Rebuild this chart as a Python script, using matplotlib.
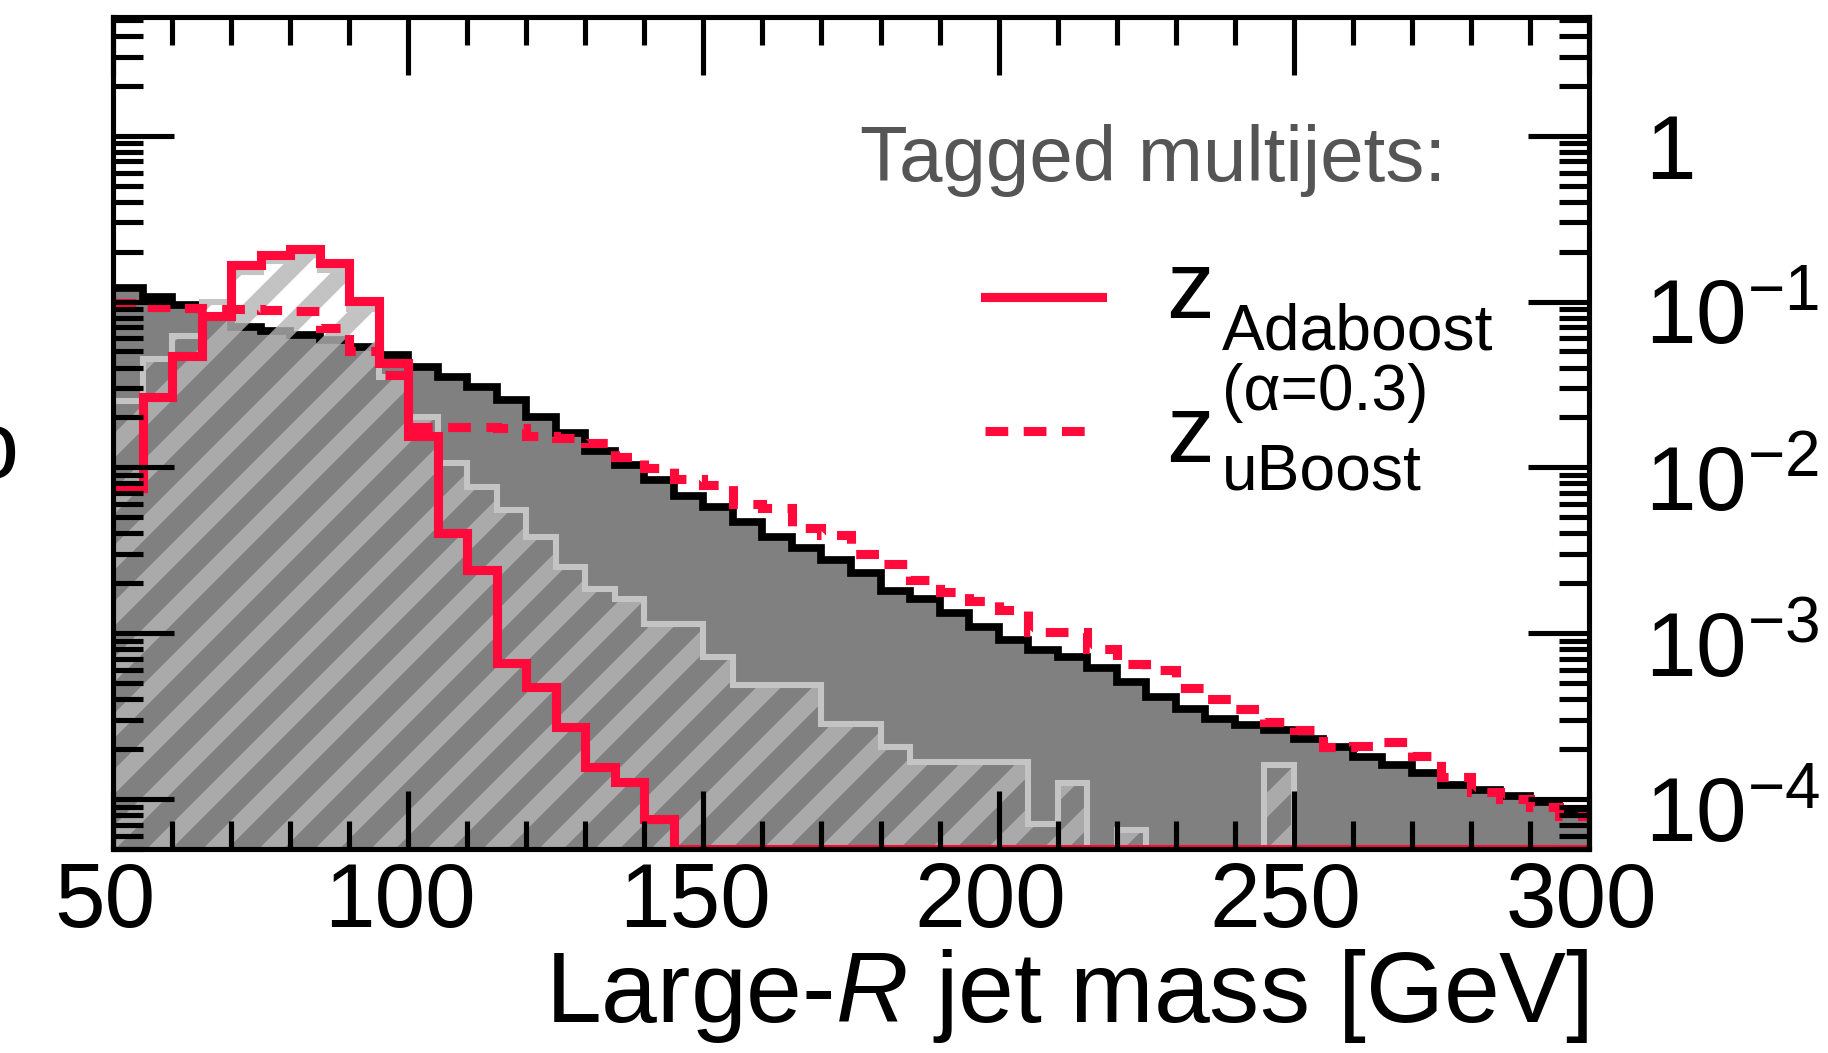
import numpy as np
import matplotlib
matplotlib.use("Agg")
import matplotlib.pyplot as plt
import matplotlib.transforms as mtransforms
from matplotlib.lines import Line2D
from matplotlib.ticker import MultipleLocator, LogLocator, FixedLocator, NullFormatter

plt.rcParams["font.family"] = ["Liberation Sans", "DejaVu Sans"]
plt.rcParams["mathtext.fontset"] = "custom"
plt.rcParams["mathtext.rm"] = "Liberation Sans"
plt.rcParams["mathtext.it"] = "Liberation Sans:italic"
plt.rcParams["hatch.linewidth"] = 7.5

# ---- data (5 GeV bins, 50 -> 300 GeV, unit-normalised fractions) ----
bin_edges = np.arange(50, 305, 5)

inclusive = [0.120, 0.107, 0.0955, 0.082, 0.0705, 0.066, 0.063, 0.0587, 0.0535, 0.0477,
             0.0405, 0.0353, 0.0307, 0.0255, 0.0200, 0.0161, 0.0126, 0.0104, 0.0084, 0.0067,
             0.0058, 0.0047, 0.0038, 0.00325, 0.00276, 0.0023, 0.0018, 0.0016, 0.00132, 0.00109,
             0.00091, 0.00079, 0.00072, 0.00062, 0.00051, 0.00041, 0.00035, 0.000306, 0.00028, 0.00026,
             0.00023, 0.000206, 0.00018, 0.00016, 0.000143, 0.000121, 0.000113, 0.000105, 0.000096, 0.000082]

tagged_hatched = [0.025, 0.045, 0.062, 0.10, 0.15, 0.175, 0.19, 0.155, 0.09, 0.035,
                  0.020, 0.0106, 0.0076, 0.0055, 0.0038, 0.0025, 0.00184, 0.0016, 0.00114, 0.00114,
                  0.00072, 0.00049, 0.00049, 0.00049, 0.000285, 0.000285, 0.000206, 0.000167, 0.000167, 0.000167,
                  0.000167, 0.000071, 0.000125, 0.0, 0.000065, 0.0, 0.0, 0.0, 0.0, 0.00016,
                  0.0, 0.0, 0.0, 0.0, 0.0, 0.0, 0.0, 0.0, 0.0, 0.0]

adaboost = [0.0075, 0.0267, 0.047, 0.082, 0.166, 0.19, 0.208, 0.17, 0.101, 0.0425,
            0.0155, 0.0040, 0.0024, 0.00066, 0.000475, 0.000272, 0.000156, 0.000127, 0.000076, 0.0,
            0.0, 0.0, 0.0, 0.0, 0.0, 0.0, 0.0, 0.0, 0.0, 0.0,
            0.0, 0.0, 0.0, 0.0, 0.0, 0.0, 0.0, 0.0, 0.0, 0.0,
            0.0, 0.0, 0.0, 0.0, 0.0, 0.0, 0.0, 0.0, 0.0, 0.0]

uboost = [0.098, 0.093, 0.091, 0.090, 0.090, 0.089, 0.088, 0.069, 0.050, 0.036,
          0.0176, 0.0176, 0.0175, 0.0172, 0.0155, 0.0150, 0.0140, 0.0116, 0.0099, 0.0085,
          0.0078, 0.0060, 0.0057, 0.0043, 0.0039, 0.0030, 0.0026, 0.0021, 0.00178, 0.00157,
          0.00139, 0.00102, 0.00102, 0.00080, 0.00065, 0.00060, 0.00047, 0.00040, 0.00035, 0.00029,
          0.00026, 0.000207, 0.00021, 0.00022, 0.000183, 0.000135, 0.00011, 0.00010, 0.00009, 0.000079]

ytick_values = [1e-4, 1e-3, 1e-2, 1e-1, 1]
ytick_labels = ["$10^{-4}$", "$10^{-3}$", "$10^{-2}$", "$10^{-1}$", "1"]

# ---- figure geometry (pixels of the 1828x1053 output) ----
W, H, DPI = 1828, 1053, 168
YMIN, YMAX = 5e-5, 5.2
FLOOR = 1e-7
RED = "#ff0a3a"


def fx(px):
    return px / W


def fy(py):
    return 1 - py / H


fig = plt.figure(figsize=(W / DPI, H / DPI), dpi=DPI)
ax = fig.add_axes([fx(113), fy(849), (1589 - 113) / W, (849 - 17) / H])
ax.set_yscale("log")

incl = np.array(inclusive)
hat = np.array(tagged_hatched)
ada = np.array(adaboost)
ub = np.array(uboost)

# inclusive multijets: dark grey fill, black outline
ax.stairs(incl, bin_edges, fill=True, color="#808080", baseline=FLOOR, zorder=1.0)
ax.stairs(incl, bin_edges, color="black", lw=3.3, baseline=None, zorder=1.1)

# hatched distribution
ax.stairs(np.where(hat > 0, hat, FLOOR), bin_edges, fill=True, facecolor="none",
          edgecolor=(0.71, 0.71, 0.71, 0.8), hatch="/", linewidth=0,
          baseline=FLOOR, zorder=1.2)
ax.stairs(np.clip(hat, YMIN, None), bin_edges, color="#c4c4c4", lw=2.6,
          baseline=None, zorder=1.3)

# tagger curves
ax.stairs(np.clip(ub, YMIN, None), bin_edges, color=RED, lw=3.9,
          linestyle=(0, (2.5, 1.7)), baseline=None, zorder=1.4)
ax.stairs(np.clip(ada, YMIN, None), bin_edges, color=RED, lw=3.9,
          baseline=None, zorder=1.5)

ax.set_xlim(50, 300)
ax.set_ylim(YMIN, YMAX)
ax.set_axisbelow(False)

ax.xaxis.set_major_locator(MultipleLocator(50))
ax.xaxis.set_minor_locator(MultipleLocator(10))
ax.yaxis.set_major_locator(FixedLocator(ytick_values))
ax.yaxis.set_minor_locator(LogLocator(base=10, subs=np.arange(2, 10), numticks=50))
ax.yaxis.set_minor_formatter(NullFormatter())
ax.set_yticklabels(ytick_labels)

ax.tick_params(which="both", direction="in", top=True, bottom=True, left=True, right=True,
               labelleft=False, labelright=True, width=2.2, labelsize=39)
ax.tick_params(axis="x", which="major", length=25, pad=5)
ax.tick_params(axis="x", which="minor", length=12)
ax.tick_params(axis="y", which="major", length=26, pad=24)
ax.tick_params(axis="y", which="minor", length=13)
for sp in ax.spines.values():
    sp.set_linewidth(2.2)

for lab in ax.get_yticklabels():
    lab.set_va("baseline")
    lab.set_transform(lab.get_transform() +
                      mtransforms.ScaledTranslation(0, -43 / DPI, fig.dpi_scale_trans))
for lab in ax.get_xticklabels():
    lab.set_transform(lab.get_transform() +
                      mtransforms.ScaledTranslation(-8 / DPI, 0, fig.dpi_scale_trans))

ax.set_xlabel("Large-$R$ jet mass [GeV]", fontsize=43, ha="right", va="baseline")
ax.xaxis.set_label_coords(1.0, -(1022 - 849) / 832)

# ---- legend block ----
fig.text(fx(1446), fy(181), "Tagged multijets:", ha="right", va="baseline",
         color="#555555", fontsize=33.5)

fig.add_artist(Line2D([fx(985), fx(1102)], [fy(297), fy(297)], color=RED, lw=3.9,
                      transform=fig.transFigure))
fig.text(fx(1166), fy(318), "z", ha="left", va="baseline", fontsize=41)
fig.text(fx(1222), fy(350), "Adaboost", ha="left", va="baseline", fontsize=27.5)

fig.add_artist(Line2D([fx(985), fx(1090)], [fy(431), fy(431)], color=RED, lw=3.9,
                      linestyle=(0, (2.5, 1.7)), transform=fig.transFigure))
fig.text(fx(1166), fy(462), "z", ha="left", va="baseline", fontsize=41)
fig.text(fx(1222), fy(410), "(\u03b1=0.3)", ha="left", va="baseline", fontsize=27.5)
fig.text(fx(1222), fy(490), "uBoost", ha="left", va="baseline", fontsize=27.5)

# edge of a neighbouring label, cut by the frame of the figure
fig.text(fx(-34), fy(478), "o", ha="left", va="baseline", fontsize=41)

fig.savefig("out.png", dpi=DPI)
